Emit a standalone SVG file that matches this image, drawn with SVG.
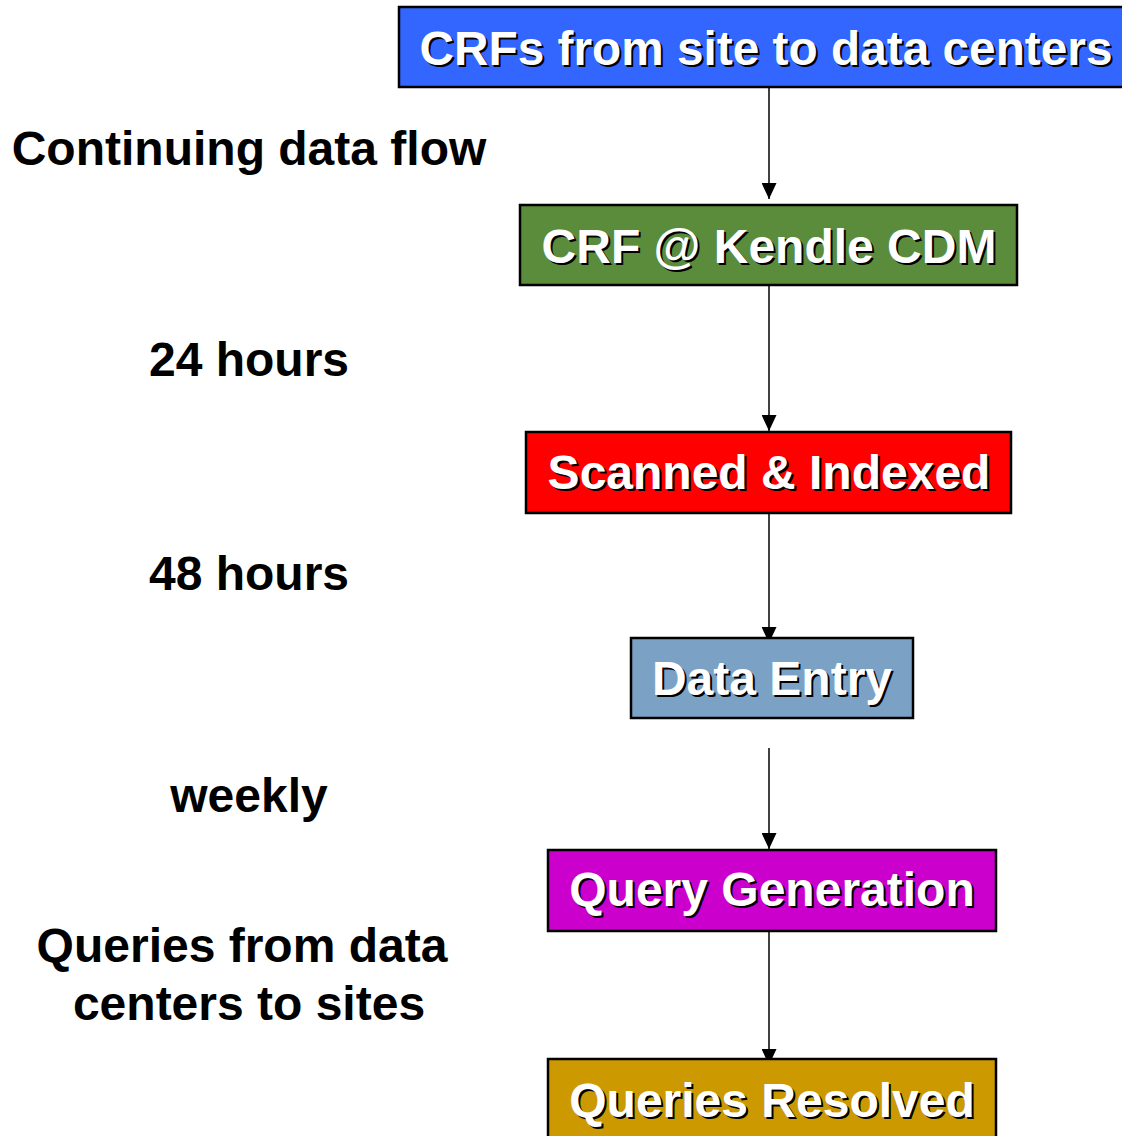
<svg xmlns="http://www.w3.org/2000/svg" width="1122" height="1136" viewBox="0 0 1122 1136">
  <style>
    .box { stroke: #000; stroke-width: 2.5; }
    .lbl { font-family: "Liberation Sans", Arial, sans-serif; font-weight: bold; font-size: 48px; text-anchor: middle; }
    .txt { fill: #fff; }
    .shd { fill: #000; }
    .side { font-family: "Liberation Sans", Arial, sans-serif; font-weight: bold; font-size: 48px; text-anchor: middle; fill: #000; }
    .conn { stroke: #000; stroke-width: 1.5; fill: none; marker-end: url(#head); }
  </style>
  <defs>
    <!-- solid triangular arrowhead, tip at the line end -->
    <marker id="head" markerUnits="userSpaceOnUse" markerWidth="16" markerHeight="15" refX="16" refY="7.5" orient="auto" viewBox="0 0 16 15">
      <path d="M0,0 L16,7.5 L0,15 Z" fill="#000"/>
    </marker>
  </defs>
  <rect width="1122" height="1136" fill="#fff"/>

  <!-- side annotations -->
  <g id="side-labels">
    <text class="side" x="249" y="165">Continuing data flow</text>
    <text class="side" x="249" y="376">24 hours</text>
    <text class="side" x="249" y="590">48 hours</text>
    <text class="side" x="249" y="812">weekly</text>
    <text class="side" x="242" y="962">Queries from data</text>
    <text class="side" x="249" y="1020">centers to sites</text>
  </g>

  <!-- connectors -->
  <g id="connectors">
    <line class="conn" x1="769" y1="88" x2="769" y2="199"/>
    <line class="conn" x1="769" y1="286" x2="769" y2="431"/>
    <line class="conn" x1="769" y1="514" x2="769" y2="643"/>
    <line class="conn" x1="769" y1="748" x2="769" y2="849"/>
    <line class="conn" x1="769" y1="932" x2="769" y2="1065"/>
  </g>

  <g id="crfs-to-centers">
    <rect class="box" x="399" y="7" width="730" height="80" fill="#3366FF"/>
    <text class="lbl shd" x="768" y="67" textLength="693" lengthAdjust="spacingAndGlyphs">CRFs from site to data centers</text>
    <text class="lbl txt" x="766" y="65" textLength="693" lengthAdjust="spacingAndGlyphs">CRFs from site to data centers</text>
  </g>

  <g id="crf-kendle">
    <rect class="box" x="520" y="205" width="497" height="80" fill="#5A8C3C"/>
    <text class="lbl shd" x="771" y="265">CRF @ Kendle CDM</text>
    <text class="lbl txt" x="769" y="263">CRF @ Kendle CDM</text>
  </g>

  <g id="scanned-indexed">
    <rect class="box" x="526" y="432" width="485" height="81" fill="#FF0000"/>
    <text class="lbl shd" x="771" y="491">Scanned &amp; Indexed</text>
    <text class="lbl txt" x="769" y="489">Scanned &amp; Indexed</text>
  </g>

  <g id="data-entry">
    <rect class="box" x="631" y="638" width="282" height="80" fill="#7BA2C4"/>
    <text class="lbl shd" x="774" y="697">Data Entry</text>
    <text class="lbl txt" x="772" y="695">Data Entry</text>
  </g>

  <g id="query-generation">
    <rect class="box" x="548" y="850" width="448" height="81" fill="#CC00CC"/>
    <text class="lbl shd" x="774" y="908">Query Generation</text>
    <text class="lbl txt" x="772" y="906">Query Generation</text>
  </g>

  <g id="queries-resolved">
    <rect class="box" x="548" y="1059" width="448" height="81" fill="#CC9900"/>
    <text class="lbl shd" x="774" y="1119">Queries Resolved</text>
    <text class="lbl txt" x="772" y="1117">Queries Resolved</text>
  </g>
</svg>
